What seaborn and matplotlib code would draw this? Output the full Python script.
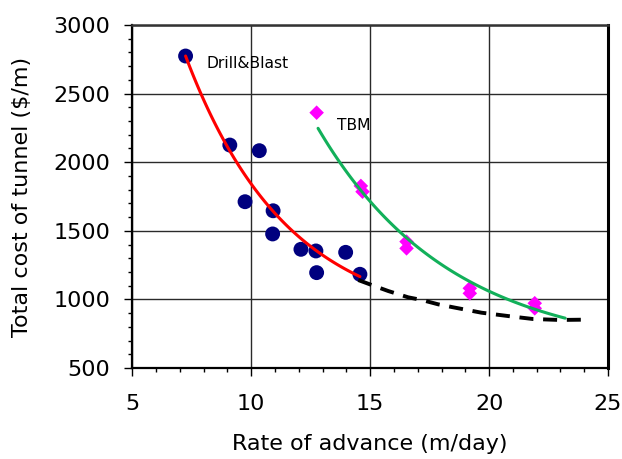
import numpy as np
import pandas as pd
import matplotlib
matplotlib.use("Agg")
import matplotlib.pyplot as plt
import seaborn as sns

# Drill & Blast field data
db_rate = [7.24, 9.10, 10.34, 9.74, 10.92, 10.90, 12.09, 12.72, 12.75, 13.97, 14.57]
db_cost = [2774, 2125, 2084, 1712, 1646, 1477, 1365, 1353, 1195, 1343, 1183]

# TBM field data
tbm_rate = [12.75, 14.61, 14.68, 16.53, 16.53, 19.19, 19.19, 21.92, 21.92]
tbm_cost = [2361, 1827, 1785, 1421, 1372, 1081, 1044, 972, 935]

# Decay trends  cost = c + a * exp(-k * (rate - start)), over the span they cover
db_trend = {"c": 813.0, "a": 1961.0, "k": 0.2339, "start": 7.24, "end": 14.57}
tbm_trend = {"c": 611.0, "a": 1636.0, "k": 0.180, "start": 12.81, "end": 23.2}

# Extension of the drill & blast trend at high advance rates
ext_rate = [14.50, 15.06, 15.76, 16.60, 17.16, 17.86, 18.56, 19.68, 21.01, 21.85, 22.97, 23.95]
ext_cost = [1141, 1105, 1061, 1015, 996, 964, 940, 903, 874, 857, 850, 852]

x_ticks = [5, 10, 15, 20, 25]
y_ticks = [500, 1000, 1500, 2000, 2500, 3000]


def trend_frame(t, n=120):
    r = np.linspace(t["start"], t["end"], n)
    cost = t["c"] + t["a"] * np.exp(-t["k"] * (r - t["start"]))
    return pd.DataFrame({"rate": r, "cost": cost})


sns.set_theme(style="white")
plt.rcParams["font.family"] = ["DejaVu Sans"]

fig = plt.figure(figsize=(6.22, 4.59), dpi=100)
ax = fig.add_axes([0.2127, 0.1983, 0.7648, 0.7472])

db = pd.DataFrame({"rate": db_rate, "cost": db_cost})
tbm = pd.DataFrame({"rate": tbm_rate, "cost": tbm_cost})
ext = pd.DataFrame({"rate": ext_rate, "cost": ext_cost})

sns.scatterplot(data=db, x="rate", y="cost", ax=ax, marker="o", s=115,
                color="#00007F", edgecolor="none", zorder=3)
sns.scatterplot(data=tbm, x="rate", y="cost", ax=ax, marker="D", s=55,
                color="#FF00FF", edgecolor="none", zorder=3)

sns.lineplot(data=trend_frame(db_trend), x="rate", y="cost", ax=ax,
             color="#FF0000", linewidth=2.2, sort=False, estimator=None, zorder=4)
sns.lineplot(data=trend_frame(tbm_trend), x="rate", y="cost", ax=ax,
             color="#12B05A", linewidth=2.2, sort=False, estimator=None, zorder=4)
ext_line = sns.lineplot(data=ext, x="rate", y="cost", ax=ax, color="black",
                        linewidth=2.8, sort=False, estimator=None, zorder=5)
ext_line.lines[-1].set_dashes((3.6, 2.5))

ax.text(8.1, 2719, "Drill&Blast", fontsize=11.2, va="center", ha="left", color="black")
ax.text(13.59, 2267, "TBM", fontsize=11.2, va="center", ha="left", color="black")

ax.set_xlim(5, 25)
ax.set_ylim(500, 3000)
ax.set_xticks(x_ticks)
ax.set_yticks(y_ticks)
ax.set_xticks(np.arange(5, 26, 1), minor=True)
ax.set_yticks(np.arange(500, 3001, 100), minor=True)
ax.tick_params(axis="both", which="major", direction="out", length=6, width=1.0,
               color="black", labelsize=16, labelcolor="black")
ax.tick_params(axis="both", which="minor", direction="out", length=3, width=1.0,
               color="black")
ax.tick_params(axis="x", which="both", bottom=True, top=False, pad=13)
ax.tick_params(axis="y", which="both", left=True, right=False, pad=10)

ax.grid(True, which="major", color="#2a2a2a", linewidth=1.0)
ax.set_axisbelow(True)

for side in ["left", "bottom"]:
    ax.spines[side].set_color("black")
    ax.spines[side].set_linewidth(1.6)
ax.spines["top"].set_color("#333333")
ax.spines["top"].set_linewidth(1.8)
ax.spines["right"].set_color("black")
ax.spines["right"].set_linewidth(2.2)

ax.set_xlabel("Rate of advance (m/day)", fontsize=16, color="black", labelpad=14)
ax.set_ylabel("Total cost of tunnel ($/m)", fontsize=16, color="black", labelpad=15)

fig.savefig("out.png", dpi=100)
